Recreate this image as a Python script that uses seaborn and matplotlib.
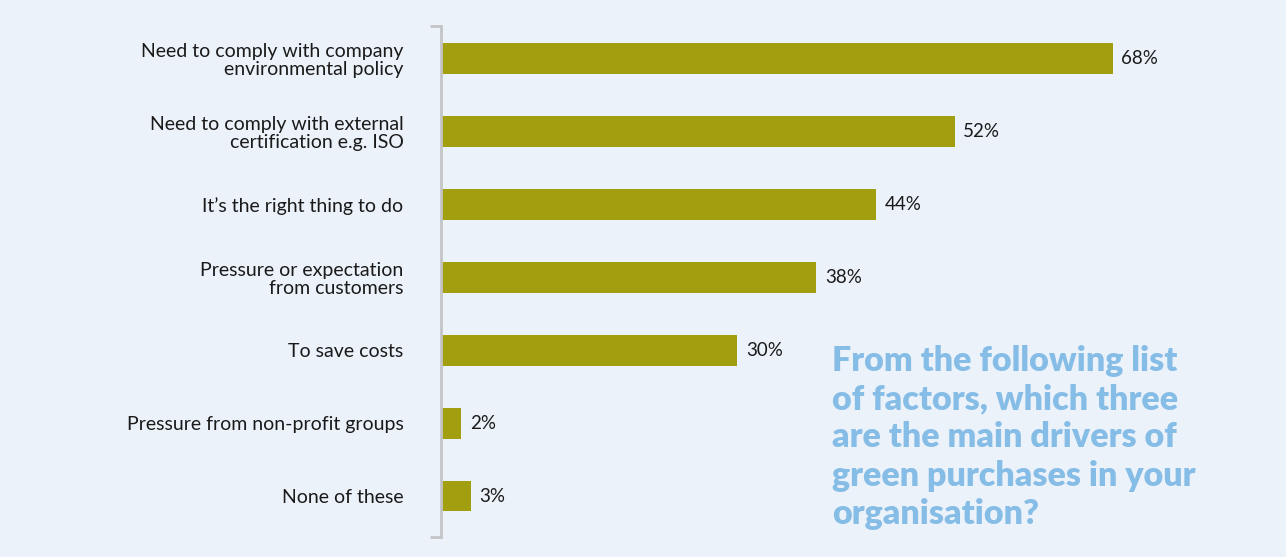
import pandas as pd
import matplotlib.pyplot as plt
import seaborn as sns

drivers = [
    "Need to comply with company\nenvironmental policy",
    "Need to comply with external\ncertification e.g. ISO",
    "It\u2019s the right thing to do",
    "Pressure or expectation\nfrom customers",
    "To save costs",
    "Pressure from non-profit groups",
    "None of these",
]
share = [68, 52, 44, 38, 30, 2, 3]

question = ("From the following list\nof factors, which three\nare the main drivers of\n"
            "green purchases in your\norganisation?")

bg = "#ecf2fa"
olive = "#a19f0f"

sns.set_style("white")
plt.rcParams['font.family'] = ['Lato', 'DejaVu Sans']

data = pd.DataFrame({"Driver": drivers, "Share": share})

fig = plt.figure(figsize=(12.86, 5.57), dpi=100)
fig.patch.set_facecolor(bg)
ax = fig.add_axes([441 / 1286, 20 / 557, 790 / 1286, (537 - 26) / 557])
ax.set_facecolor(bg)

sns.barplot(data=data, x="Share", y="Driver", orient="h", color=olive,
            width=0.42, saturation=1, linewidth=0, ax=ax)

ax.set_xlim(0, 80)
ax.set_ylim(6.56, -0.446)
ax.set_xlabel("")
ax.set_ylabel("")
ax.set_xticks([])
ax.tick_params(axis="y", length=0, pad=27, labelsize=14, labelcolor="#1a1a1a")
for lbl in ax.get_yticklabels():
    lbl.set_horizontalalignment("right")
    lbl.set_linespacing(1.05)

for s in ["top", "right", "bottom"]:
    ax.spines[s].set_visible(False)
ax.spines["left"].set_color("#c4c4c6")
ax.spines["left"].set_linewidth(2)

# bracket ends on the axis line
for yy in (0, 1):
    ax.plot([-0.0135, 0], [yy, yy], transform=ax.transAxes, color="#c4c4c6",
            lw=2, clip_on=False, solid_capstyle="butt")

for i, v in enumerate(share):
    ax.text(v + 0.9, i, f"{v}%", va="center", ha="left", fontsize=13.5,
            color="#1a1a1a")

fig.text(832 / 1286, 1 - 345 / 557, question, ha="left", va="top",
         fontsize=24.5, fontweight="heavy", color="#86bde6", linespacing=1.24)

fig.savefig("out.png", dpi=100, facecolor=bg)
